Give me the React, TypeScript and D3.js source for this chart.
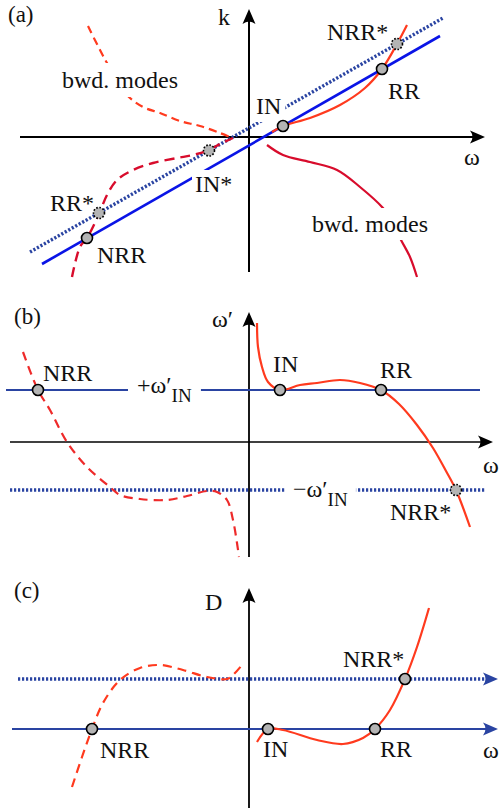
import { useEffect, useRef } from "react";
import * as d3 from "d3";

type Pt = [number, number];

// ---- panel (a): k(ω) dispersion ----
const aBlueSolid: Pt[] = [[-20.7, -12.7], [19.1, 10.1]];
const aBlueDotted: Pt[] = [[-21.9, -11.5], [19.4, 11.9]];
const aFwd: Pt[] = [[2.3, 0.5], [3.4, 1.1], [6.1, 1.9], [9.1, 3.2], [11.6, 4.9], [13.3, 6.8], [14.8, 9.3], [15.8, 11.2]];
const aBwdSolid: Pt[] = [[1.8, -0.8], [3.4, -1.8], [6.1, -2.5], [8.8, -3.3], [11.1, -5.0], [13.4, -7.1], [14.4, -8.5], [15.1, -10.1], [16.1, -12.0], [16.8, -14.0]];
const aBwdDashed: Pt[] = [[-16.1, 11.1], [-14.9, 8.7], [-14.2, 7.4], [-12.2, 4.2], [-10.6, 3.0], [-8.9, 2.4], [-6.9, 1.6], [-4.9, 1.1], [-2.9, 0.4], [-1.9, 0]];
const aMirror: Pt[] = [[-17.7, -14.0], [-16.9, -11.0], [-16.2, -10.1], [-15.0, -7.7], [-14.2, -5.8], [-13.2, -4.3], [-11.6, -3.3], [-9.6, -2.6], [-7.2, -2.1], [-5.6, -1.8], [-4.0, -1.3], [-2.9, -0.7], [-1.6, -0.1]];
const aPoints: { p: Pt; dotted: boolean }[] = [
  { p: [3.4, 1.1], dotted: false },
  { p: [13.3, 6.8], dotted: false },
  { p: [14.8, 9.3], dotted: true },
  { p: [-4.0, -1.35], dotted: true },
  { p: [-15.0, -7.6], dotted: true },
  { p: [-16.2, -10.1], dotted: false },
];
const aLabels: { t: string; p: Pt; sub?: string; bg?: [number, number] }[] = [
  { t: "k", p: [-3.1, 11.2] },
  { t: "NRR*", p: [7.8, 9.7] },
  { t: "RR", p: [13.9, 3.8] },
  { t: "IN", p: [0.7, 2.3], bg: [4, 6] },
  { t: "ω", p: [21.5, -2.8] },
  { t: "bwd. modes", p: [6.3, -9.5], bg: [4, 6] },
  { t: "bwd. modes", p: [-18.7, 4.9], bg: [4, 7] },
  { t: "IN*", p: [-5.4, -5.5], bg: [3, 4] },
  { t: "RR*", p: [-19.9, -7.4] },
  { t: "NRR", p: [-15.2, -12.6] },
];

// ---- panel (b): ω' curve ----
const bFwd: Pt[] = [[0.8, 11.9], [0.9, 9.5], [1.3, 7.5], [1.9, 6.0], [3.1, 5.2], [5.1, 5.7], [6.8, 5.9], [9.1, 6.2], [11.1, 5.9], [13.2, 5.2], [15.0, 3.8], [16.8, 1.7], [18.4, -0.6], [19.7, -2.9], [20.7, -4.8], [22.1, -8.5]];
const bBwd: Pt[] = [[-22.6, 9.0], [-21.1, 5.2], [-19.9, 3.2], [-18.2, 0], [-16.2, -2.5], [-13.9, -4.5], [-12.9, -5.3], [-10.9, -5.7], [-8.2, -5.8], [-6.2, -5.4], [-4.2, -4.9], [-3.2, -5.0], [-2.2, -5.8], [-1.6, -7.8], [-1.2, -10.1], [-1.0, -11.5]];
const bPlus = 5.2;
const bMinus = -4.8;
const bPoints: { p: Pt; dotted: boolean }[] = [
  { p: [-21.1, 5.2], dotted: false },
  { p: [3.1, 5.2], dotted: false },
  { p: [13.2, 5.2], dotted: false },
  { p: [20.7, -4.8], dotted: true },
];
const bLabels: { t: string; p: Pt; sub?: string; bg?: [number, number] }[] = [
  { t: "ω′", p: [-3.7, 11.5] },
  { t: "NRR", p: [-20.6, 6.1] },
  { t: "+ω′", sub: "IN", p: [-11.2, 4.9], bg: [9, 4] },
  { t: "IN", p: [2.4, 7.0] },
  { t: "RR", p: [13.1, 6.4] },
  { t: "ω", p: [23.4, -3.1] },
  { t: "−ω′", sub: "IN", p: [4.4, -5.5], bg: [8, 4] },
  { t: "NRR*", p: [14.1, -7.8] },
];

// ---- panel (c): D(ω) ----
const cFwd: Pt[] = [[0.8, -1.3], [1.9, 0], [3.4, -0.1], [6.8, -1.1], [9.4, -1.5], [11.4, -0.9], [12.6, 0], [14.1, 1.9], [15.6, 5.0], [16.8, 8.2], [18.0, 12.1]];
const cBwd: Pt[] = [[-17.7, -5.8], [-16.7, -2.8], [-15.7, 0], [-14.6, 2.6], [-12.9, 4.9], [-10.9, 6.1], [-8.9, 6.4], [-6.6, 5.9], [-4.2, 5.2], [-2.2, 5.0], [-1.6, 5.4], [-0.7, 6.4]];
const cUpper = 5.0;
const cPoints: { p: Pt; dotted: boolean }[] = [
  { p: [-15.7, 0], dotted: false },
  { p: [1.9, 0], dotted: false },
  { p: [12.6, 0], dotted: false },
  { p: [15.6, 5.0], dotted: false },
];
const cLabels: { t: string; p: Pt; sub?: string; bg?: [number, number] }[] = [
  { t: "D", p: [-4.4, 11.9] },
  { t: "NRR*", p: [9.4, 6.2] },
  { t: "NRR", p: [-14.9, -2.9] },
  { t: "IN", p: [1.4, -2.8] },
  { t: "RR", p: [13.1, -2.8] },
  { t: "ω", p: [23.4, -2.9] },
];

const W = 500;
const H = 808;
const FONT = "'Liberation Serif', 'Times New Roman', serif";
const BLUE = "#0a14e6";
const NAVY = "#2a44a2";
const ORANGE = "#ff3a1e";
const CRIMSON = "#d80c2c";

const App = () => {
  const svgRef = useRef<SVGSVGElement>(null);

  useEffect(() => {
    const svg = d3.select(svgRef.current);
    svg.selectAll("*").remove();

    const x = d3.scaleLinear().domain([-25, 25]).range([-1, 499]);
    const line = (y: d3.ScaleLinear<number, number>) =>
      d3
        .line<Pt>()
        .x((d) => x(d[0]))
        .y((d) => y(d[1]))
        .curve(d3.curveCatmullRom.alpha(0.5));

    const arrowRight = (g: any, tx: number, ty: number, color: string) =>
      g.append("path")
        .attr("d", `M${tx},${ty} L${tx - 15},${ty - 6.5} Q${tx - 10},${ty} ${tx - 15},${ty + 6.5} Z`)
        .attr("fill", color);
    const arrowUp = (g: any, tx: number, ty: number, color: string) =>
      g.append("path")
        .attr("d", `M${tx},${ty} L${tx - 6.5},${ty + 15} Q${tx},${ty + 10} ${tx + 6.5},${ty + 15} Z`)
        .attr("fill", color);

    const curve = (g: any, y: any, data: Pt[], color: string, dash: string | null, w = 2) => {
      const p = g.append("path")
        .datum(data)
        .attr("d", line(y))
        .attr("fill", "none")
        .attr("stroke", color)
        .attr("stroke-width", w);
      if (dash) p.attr("stroke-dasharray", dash);
    };

    const dots = (g: any, y: any, pts: { p: Pt; dotted: boolean }[]) => {
      g.selectAll(null)
        .data(pts)
        .join("circle")
        .attr("cx", (d: any) => x(d.p[0]))
        .attr("cy", (d: any) => y(d.p[1]))
        .attr("r", 5.5)
        .attr("fill", "#b4b4b4")
        .attr("stroke", "#000")
        .attr("stroke-width", 1.6)
        .attr("stroke-dasharray", (d: any) => (d.dotted ? "1.6,1.6" : null));
    };

    const labels = (g: any, y: any, list: typeof aLabels) => {
      list.forEach((l) => {
        const t = g.append("text")
          .attr("x", x(l.p[0]))
          .attr("y", y(l.p[1]))
          .attr("font-family", FONT)
          .attr("font-size", 24)
          .attr("fill", "#111")
          .text(l.t);
        if (l.sub) {
          t.append("tspan").attr("dy", 9).attr("font-size", 19).text(l.sub);
        }
        if (l.bg) {
          const b = (t.node() as SVGTextElement).getBBox();
          g.insert("rect", () => t.node())
            .attr("x", b.x - l.bg[0])
            .attr("y", b.y + 3 - l.bg[1])
            .attr("width", b.width + 2 * l.bg[0])
            .attr("height", b.height - 6 + 2 * l.bg[1])
            .attr("fill", "#fff");
        }
      });
    };

    const tag = (text: string, px: number, py: number) =>
      svg.append("text")
        .attr("x", px)
        .attr("y", py)
        .attr("font-family", FONT)
        .attr("font-size", 23)
        .attr("fill", "#111")
        .text(text);

    // ---------- (a) ----------
    {
      const y = d3.scaleLinear().domain([0, 10]).range([137, 37]);
      const g = svg.append("g");
      g.append("line").attr("x1", x(-22.9)).attr("x2", x(23.0)).attr("y1", y(0)).attr("y2", y(0)).attr("stroke", "#000").attr("stroke-width", 2);
      arrowRight(g, x(23.6), y(0), "#000");
      g.append("line").attr("x1", x(0)).attr("x2", x(0)).attr("y1", y(-13.5)).attr("y2", y(12.3)).attr("stroke", "#000").attr("stroke-width", 2);
      arrowUp(g, x(0), y(12.8), "#000");

      curve(g, y, aBwdDashed, ORANGE, "8,5", 2.2);
      curve(g, y, aBwdSolid, CRIMSON, null, 2.2);
      curve(g, y, aBlueSolid, BLUE, null, 2.6);
      curve(g, y, aBlueDotted, NAVY, "2.2,1.8", 3.4);
      curve(g, y, aMirror, CRIMSON, "10,6", 2.4);
      curve(g, y, aFwd, ORANGE, null, 2.2);
      labels(g, y, aLabels);
      dots(g, y, aPoints);
      tag("(a)", 8, 22);
    }

    // ---------- (b) ----------
    {
      const y = d3.scaleLinear().domain([0, 10]).range([442, 342]);
      const g = svg.append("g");
      g.append("line").attr("x1", x(-23.9)).attr("x2", x(23.8)).attr("y1", y(0)).attr("y2", y(0)).attr("stroke", "#000").attr("stroke-width", 1.6);
      arrowRight(g, x(24.4), y(0), "#000");
      g.append("line").attr("x1", x(0)).attr("x2", x(0)).attr("y1", y(-11.5)).attr("y2", y(12.4)).attr("stroke", "#000").attr("stroke-width", 1.8);
      arrowUp(g, x(0), y(13.0), "#000");

      curve(g, y, [[-24.3, bPlus], [23.1, bPlus]], NAVY, null, 2.2);
      curve(g, y, [[-23.9, bMinus], [23.6, bMinus]], NAVY, "2.2,1.8", 3.4);
      curve(g, y, bBwd, "#ee2a2a", "9,6", 2.2);
      curve(g, y, bFwd, ORANGE, null, 2.2);
      labels(g, y, bLabels);
      dots(g, y, bPoints);
      tag("(b)", 14, 324);
    }

    // ---------- (c) ----------
    {
      const y = d3.scaleLinear().domain([0, 10]).range([729, 629]);
      const g = svg.append("g");
      g.append("line").attr("x1", x(0)).attr("x2", x(0)).attr("y1", y(-8.2)).attr("y2", y(13.5)).attr("stroke", "#000").attr("stroke-width", 1.8);
      arrowUp(g, x(0), y(14.1), "#000");

      curve(g, y, [[-23.7, 0], [24.3, 0]], NAVY, null, 2.2);
      arrowRight(g, x(24.9), y(0), NAVY);
      curve(g, y, [[-23.1, cUpper], [24.0, cUpper]], NAVY, "2.2,1.8", 3.4);
      arrowRight(g, x(24.9), y(cUpper), NAVY);
      curve(g, y, cBwd, ORANGE, "9,6", 2.2);
      curve(g, y, cFwd, ORANGE, null, 2.2);
      labels(g, y, cLabels);
      dots(g, y, cPoints);
      tag("(c)", 14, 598);
    }
  }, []);

  return (
    <svg
      ref={svgRef}
      width={W}
      height={H}
      style={{ position: "absolute", left: 0, top: 0, background: "#fff" }}
    />
  );
};

export default App;
